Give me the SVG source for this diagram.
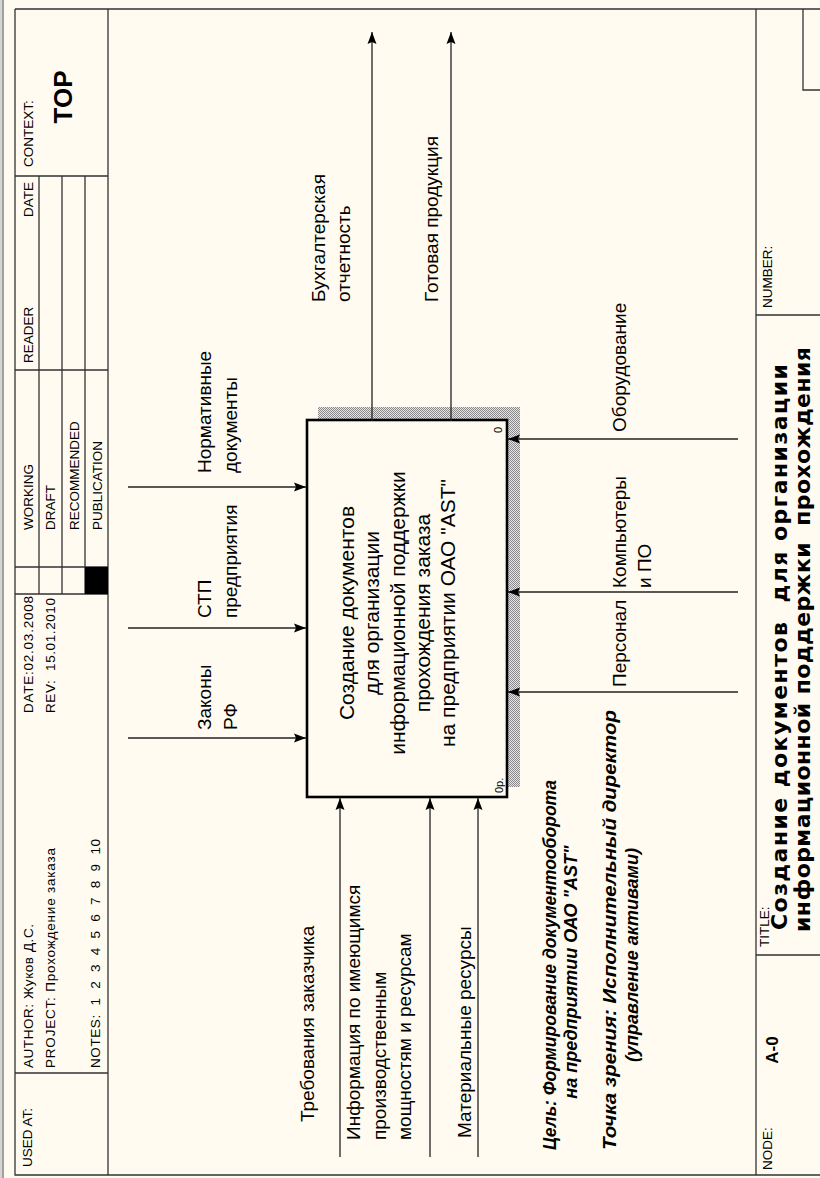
<svg xmlns="http://www.w3.org/2000/svg" width="820" height="1178" viewBox="0 0 820 1178">
<defs>
<style>
.fr{stroke:#333;stroke-width:1.3;fill:none}
.hd{font-family:"Liberation Sans",Arial,sans-serif;font-size:13.5px;fill:#000}
.lb{font-family:"Liberation Sans",Arial,sans-serif;font-size:19px;fill:#000}
.bx{font-family:"Liberation Sans",Arial,sans-serif;font-size:21px;fill:#000;text-anchor:middle}
.ti{font-family:"DejaVu Sans",Verdana,sans-serif;font-size:22px;font-weight:bold;fill:#000}
.gl{font-family:"Liberation Sans",Arial,sans-serif;font-size:18px;font-weight:bold;font-style:italic;fill:#000}
.ar{stroke:#222;stroke-width:1.3;fill:none;marker-end:url(#ah)}
.sm{font-family:"Liberation Sans",Arial,sans-serif;font-size:11px;fill:#000}
</style>
<marker id="ah" viewBox="0 0 12 10" refX="12" refY="5" markerWidth="12" markerHeight="10" orient="auto" markerUnits="userSpaceOnUse">
<path d="M0,0.5 L12,5 L0,9.5 L2,5 Z" fill="#000"/>
</marker>
<pattern id="hatch" width="2" height="2" patternUnits="userSpaceOnUse">
<rect width="2" height="2" fill="#e4e4e4"/>
<rect width="1" height="1" fill="#8a8a8a"/>
<rect x="1" y="1" width="1" height="1" fill="#8a8a8a"/>
</pattern>
</defs>

<rect x="0" y="0" width="820" height="1178" fill="#FFFBF0"/>
<rect x="0" y="0" width="2" height="1178" fill="#d4d4d4"/>
<rect x="2" y="0" width="2" height="1178" fill="#a0a0a0"/>

<g id="frame">
<path class="fr" d="M15,9 H820 M15,9 V1175 H820 M108,9 V1175 M756,9 V1175"/>
<path class="fr" d="M15,176 H108 M15,370 H108 M15,567 H108 M15,594 H108 M15,1073 H108"/>
<path class="fr" d="M39,176 V594 M62,176 V594 M85,176 V594"/>
<rect x="85" y="567" width="23" height="27" fill="#000"/>
<path class="fr" d="M756,315 H820 M756,955 H820 M803,9 V90 H820"/>
<text class="hd" transform="translate(32,1167) rotate(-90)">USED AT:</text>
<text class="hd" transform="translate(33,1068) rotate(-90)" textLength="144" lengthAdjust="spacing">AUTHOR: Жуков Д.С.</text>
<text class="hd" transform="translate(55,1068) rotate(-90)" textLength="220" lengthAdjust="spacing">PROJECT: Прохождение заказа</text>
<text class="hd" transform="translate(100,1068) rotate(-90)" xml:space="preserve" textLength="229" lengthAdjust="spacing">NOTES:  1  2  3  4  5  6  7  8  9  10</text>
<text class="hd" transform="translate(33,713) rotate(-90)" textLength="117" lengthAdjust="spacing">DATE:02.03.2008</text>
<text class="hd" transform="translate(55,713) rotate(-90)" textLength="115" lengthAdjust="spacing" xml:space="preserve">REV:  15.01.2010</text>
<text class="hd" transform="translate(33,530) rotate(-90)">WORKING</text>
<text class="hd" transform="translate(55,530) rotate(-90)">DRAFT</text>
<text class="hd" transform="translate(79,530) rotate(-90)">RECOMMENDED</text>
<text class="hd" transform="translate(102,530) rotate(-90)">PUBLICATION</text>
<text class="hd" transform="translate(33,363) rotate(-90)">READER</text>
<text class="hd" transform="translate(33,217) rotate(-90)">DATE</text>
<text class="hd" transform="translate(33,167) rotate(-90)">CONTEXT:</text>
<text transform="translate(72,97) rotate(-90)" style="font-family:'Liberation Sans',Arial,sans-serif;font-size:26px;font-weight:bold;text-anchor:middle">TOP</text>
<text class="hd" transform="translate(772,308) rotate(-90)">NUMBER:</text>
<text class="hd" transform="translate(769,947) rotate(-90)">TITLE:</text>
<text class="hd" transform="translate(772,1170) rotate(-90)">NODE:</text>
<text transform="translate(778,1050) rotate(-90)" style="font-family:'Liberation Sans',Arial,sans-serif;font-size:17px;font-weight:bold;text-anchor:middle">A-0</text>
<text class="ti" transform="translate(787,930) rotate(-90)" xml:space="preserve" textLength="566" lengthAdjust="spacing">Создание документов  для организации</text>
<text class="ti" transform="translate(810,932) rotate(-90)" xml:space="preserve" textLength="585" lengthAdjust="spacing">информационной поддержки  прохождения</text>
</g>

<g id="A0">
<rect x="318" y="407" width="202" height="380" fill="url(#hatch)"/>
<rect x="307" y="420" width="200" height="377" fill="#FFFBF0" stroke="#000" stroke-width="2.6"/>
<text class="bx" transform="translate(354,613) rotate(-90)">Создание документов</text>
<text class="bx" transform="translate(379,613) rotate(-90)">для организации</text>
<text class="bx" transform="translate(405,613) rotate(-90)">информационной поддержки</text>
<text class="bx" transform="translate(430,613) rotate(-90)">прохождения заказа</text>
<text class="bx" transform="translate(455,613) rotate(-90)">на предприятии ОАО "AST"</text>
<text class="sm" transform="translate(502,433) rotate(-90)">0</text>
<text class="sm" transform="translate(503,793) rotate(-90)">0р.</text>
</g>

<g id="connectors">
<line class="ar" x1="128" y1="487" x2="306" y2="487"/>
<line class="ar" x1="128" y1="628" x2="306" y2="628"/>
<line class="ar" x1="128" y1="738" x2="306" y2="738"/>
<line class="ar" x1="340" y1="1157" x2="340" y2="798"/>
<line class="ar" x1="430" y1="1157" x2="430" y2="798"/>
<line class="ar" x1="478" y1="1157" x2="478" y2="798"/>
<line class="ar" x1="372" y1="421" x2="372" y2="32"/>
<line class="ar" x1="451" y1="421" x2="451" y2="32"/>
<line class="ar" x1="738" y1="439" x2="508" y2="439"/>
<line class="ar" x1="738" y1="592" x2="508" y2="592"/>
<line class="ar" x1="738" y1="692" x2="508" y2="692"/>
</g>

<g id="labels">
<text class="lb" transform="translate(211,473) rotate(-90)">Нормативные</text>
<text class="lb" transform="translate(237,473) rotate(-90)">документы</text>
<text class="lb" transform="translate(211,618) rotate(-90)">СТП</text>
<text class="lb" transform="translate(237,618) rotate(-90)">предприятия</text>
<text class="lb" transform="translate(211,730) rotate(-90)">Законы</text>
<text class="lb" transform="translate(237,730) rotate(-90)">РФ</text>
<text class="lb" transform="translate(325,302) rotate(-90)">Бухгалтерская</text>
<text class="lb" transform="translate(350,302) rotate(-90)">отчетность</text>
<text class="lb" transform="translate(438,302) rotate(-90)">Готовая продукция</text>
<text class="lb" transform="translate(626,432) rotate(-90)">Оборудование</text>
<text class="lb" transform="translate(626,588) rotate(-90)">Компьютеры</text>
<text class="lb" transform="translate(651,588) rotate(-90)">и ПО</text>
<text class="lb" transform="translate(626,687) rotate(-90)">Персонал</text>
<text class="lb" transform="translate(314,1122) rotate(-90)">Требования заказчика</text>
<text class="lb" transform="translate(360,1140) rotate(-90)">Информация по имеющимся</text>
<text class="lb" transform="translate(386,1140) rotate(-90)">производственным</text>
<text class="lb" transform="translate(411,1140) rotate(-90)">мощностям и ресурсам</text>
<text class="lb" transform="translate(471,1138) rotate(-90)">Материальные ресурсы</text>
<text class="gl" transform="translate(556,1150) rotate(-90)" textLength="370" lengthAdjust="spacingAndGlyphs">Цель: Формирование документооборота</text>
<text class="gl" transform="translate(577,972) rotate(-90)" text-anchor="middle">на предприятии ОАО "AST"</text>
<text class="gl" transform="translate(616,1150) rotate(-90)" textLength="440" lengthAdjust="spacingAndGlyphs">Точка зрения: Исполнительный директор</text>
<text class="gl" transform="translate(638,955) rotate(-90)" text-anchor="middle">(управление активами)</text>
</g>
</svg>
